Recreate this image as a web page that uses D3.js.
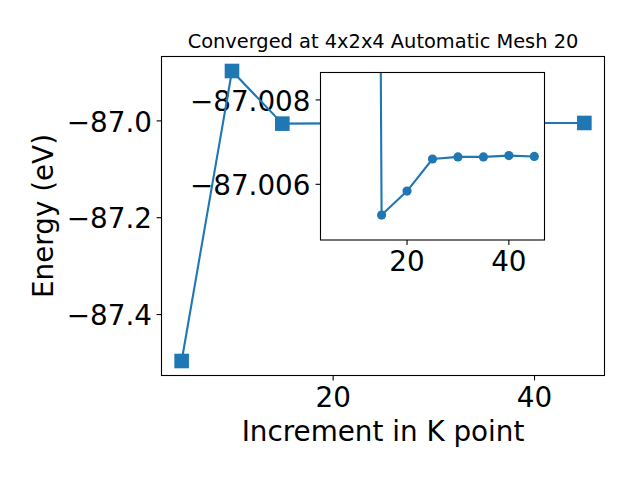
<!DOCTYPE html>
<html>
<head>
<meta charset="utf-8">
<script src="https://cdn.jsdelivr.net/npm/d3@7"></script>
<style>
  body { margin: 0; background: #fff; }
  text { font-family: "DejaVu Sans", sans-serif; fill: #000; }
</style>
</head>
<body>
<div id="chart"></div>
<script>
// data
const kpoints = [5, 10, 15, 20, 25, 30, 35, 40, 45];
const energies = [-87.497, -86.898, -87.00673, -87.00616, -87.00540, -87.00535, -87.00535, -87.00532, -87.00534];

const xTicks = [20, 40];
const yTicks = [-87.4, -87.2, -87.0];
// inset shows the run from the second k point on
const insetKpoints = kpoints.slice(1);
const insetEnergies = energies.slice(1);
const insetXTicks = [20, 40];
const insetYLimits = [-87.00732, -87.00335];
const insetYTickValues = [-87.004, -87.006];
const insetYTickLabels = ['\u221287.008', '\u221287.006'];

const COLOR = '#1f77b4';
const width = 640, height = 480;

const main = { left: 161.5, top: 56.5, width: 443, height: 319 };
const inset = { left: 320.5, top: 72.5, width: 224, height: 167.5 };

const svg = d3.select('#chart')
    .append('svg')
    .attr('width', width)
    .attr('height', height);

// matplotlib style 5% margins
function padded(ext) {
    const p = (ext[1] - ext[0]) * 0.05;
    return [ext[0] - p, ext[1] + p];
}

const x = d3.scaleLinear()
    .domain(padded(d3.extent(kpoints)))
    .range([main.left, main.left + main.width]);

const y = d3.scaleLinear()
    .domain(padded(d3.extent(energies)))
    .range([main.top + main.height, main.top]);

const xi = d3.scaleLinear()
    .domain(padded(d3.extent(kpoints)))
    .range([inset.left, inset.left + inset.width]);

const yi = d3.scaleLinear()
    .domain(insetYLimits)
    .range([inset.top + inset.height, inset.top]);

const points = kpoints.map((k, i) => ({ k, e: energies[i] }));
const insetPoints = insetKpoints.map((k, i) => ({ k, e: insetEnergies[i] }));

// Inset tick labels sit under the main line
const insetLabels = svg.append('g');
insetYTickValues.forEach((v, i) => {
    insetLabels.append('text')
        .attr('x', inset.left - 10)
        .attr('y', yi(v))
        .attr('dy', '0.385em')
        .attr('text-anchor', 'end')
        .style('font-size', '27.8px')
        .text(insetYTickLabels[i]);
});
insetXTicks.forEach(t => {
    insetLabels.append('text')
        .attr('x', xi(t))
        .attr('y', inset.top + inset.height + 31)
        .attr('text-anchor', 'middle')
        .style('font-size', '27.8px')
        .text(t);
});

// Main plot
svg.append('defs').append('clipPath').attr('id', 'clipMain')
    .append('rect')
    .attr('x', main.left).attr('y', main.top)
    .attr('width', main.width).attr('height', main.height);

const line = d3.line().x(d => x(d.k)).y(d => y(d.e));

const mainG = svg.append('g').attr('clip-path', 'url(#clipMain)');
mainG.append('path')
    .datum(points)
    .attr('d', line)
    .attr('fill', 'none')
    .attr('stroke', COLOR)
    .attr('stroke-width', 2.1)
    .attr('stroke-linejoin', 'round');

svg.append('g').selectAll('rect')
    .data(points)
    .enter()
    .append('rect')
    .attr('x', d => x(d.k) - 7.3)
    .attr('y', d => y(d.e) - 7.3)
    .attr('width', 14.6)
    .attr('height', 14.6)
    .attr('fill', COLOR);

// Main axes
const xAxis = d3.axisBottom(x).tickValues(xTicks).tickSize(4.9).tickPadding(4).tickFormat(d3.format('d'));
const yAxis = d3.axisLeft(y).tickValues(yTicks).tickSize(4.9).tickPadding(4).tickFormat(d3.format('.1f'));

const gx = svg.append('g')
    .attr('transform', `translate(0,${main.top + main.height})`)
    .call(xAxis);
const gy = svg.append('g')
    .attr('transform', `translate(${main.left},0)`)
    .call(yAxis);

[gx, gy].forEach(g => {
    g.select('.domain').remove();
    g.selectAll('line').attr('stroke', '#000').attr('stroke-width', 1.1);
    g.selectAll('text').style('font-size', '27.8px').attr('font-family', 'DejaVu Sans');
});
gx.selectAll('text').attr('dy', null).attr('y', 31);
gy.selectAll('text').attr('dy', '0.385em').attr('x', -9.5);

svg.append('rect')
    .attr('x', main.left).attr('y', main.top)
    .attr('width', main.width).attr('height', main.height)
    .attr('fill', 'none')
    .attr('stroke', '#000')
    .attr('stroke-width', 1.1);

// Title and labels
svg.append('text')
    .attr('x', main.left + main.width / 2)
    .attr('y', 48.4)
    .attr('text-anchor', 'middle')
    .style('font-size', '19.4px')
    .text('Converged at 4x2x4 Automatic Mesh 20');

svg.append('text')
    .attr('x', main.left + main.width / 2)
    .attr('y', 441)
    .attr('text-anchor', 'middle')
    .style('font-size', '27.8px')
    .text('Increment in K point');

svg.append('text')
    .attr('transform', `translate(52.5,${main.top + main.height / 2}) rotate(-90)`)
    .attr('text-anchor', 'middle')
    .style('font-size', '27.8px')
    .text('Energy (eV)');

// Inset axes
svg.append('defs').append('clipPath').attr('id', 'clipInset')
    .append('rect')
    .attr('x', inset.left).attr('y', inset.top)
    .attr('width', inset.width).attr('height', inset.height);

svg.append('rect')
    .attr('x', inset.left).attr('y', inset.top)
    .attr('width', inset.width).attr('height', inset.height)
    .attr('fill', '#fff');

const lineInset = d3.line().x(d => xi(d.k)).y(d => yi(d.e));
const insetG = svg.append('g').attr('clip-path', 'url(#clipInset)');

insetG.append('path')
    .datum(insetPoints)
    .attr('d', lineInset)
    .attr('fill', 'none')
    .attr('stroke', COLOR)
    .attr('stroke-width', 2.1)
    .attr('stroke-linejoin', 'round');

insetG.selectAll('circle')
    .data(insetPoints)
    .enter()
    .append('circle')
    .attr('cx', d => xi(d.k))
    .attr('cy', d => yi(d.e))
    .attr('r', 4.6)
    .attr('fill', COLOR);

// inset ticks (labels drawn earlier)
insetXTicks.forEach(t => {
    svg.append('line')
        .attr('x1', xi(t)).attr('x2', xi(t))
        .attr('y1', inset.top + inset.height).attr('y2', inset.top + inset.height + 4.9)
        .attr('stroke', '#000').attr('stroke-width', 1.1);
});
insetYTickValues.forEach(v => {
    svg.append('line')
        .attr('x1', inset.left - 4.9).attr('x2', inset.left)
        .attr('y1', yi(v)).attr('y2', yi(v))
        .attr('stroke', '#000').attr('stroke-width', 1.1);
});

svg.append('rect')
    .attr('x', inset.left).attr('y', inset.top)
    .attr('width', inset.width).attr('height', inset.height)
    .attr('fill', 'none')
    .attr('stroke', '#000')
    .attr('stroke-width', 1.1);
</script>
</body>
</html>
